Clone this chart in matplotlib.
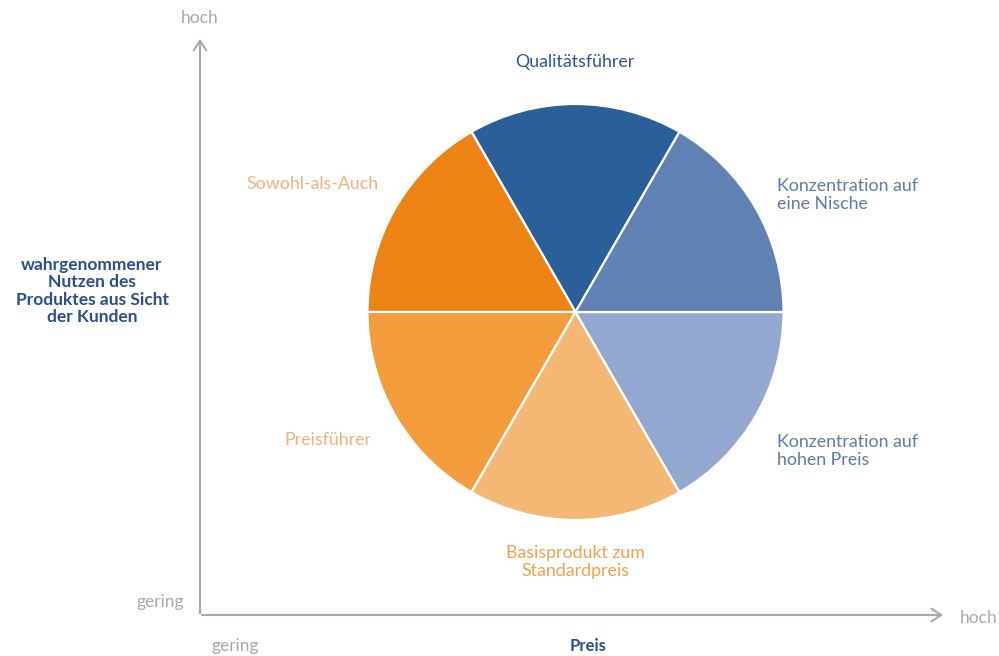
import matplotlib
matplotlib.use('Agg')
import matplotlib.pyplot as plt

plt.rcParams['font.family'] = ['Lato', 'DejaVu Sans']

# Strategien (gleich grosse Segmente, gegen den Uhrzeigersinn ab 60 Grad)
segmente = ['Qualitätsführer', 'Sowohl-als-Auch', 'Preisführer',
            'Basisprodukt zum\nStandardpreis', 'Konzentration auf\nhohen Preis',
            'Konzentration auf\neine Nische']
anteile = [1, 1, 1, 1, 1, 1]
farben = ['#2A5F99', '#EE8315', '#F29C3C', '#F3B873', '#93A8CE', '#6082B2']

y_titel = 'wahrgenommener\nNutzen des\nProduktes aus Sicht\nder Kunden'
x_titel = 'Preis'
achse_lo, achse_hi = 'gering', 'hoch'

W, H = 999, 656
fig = plt.figure(figsize=(W / 100, H / 100), dpi=100)
ax = fig.add_axes([0, 0, 1, 1])

def py(y):
    # Pixel-y (von oben) in Datenkoordinaten
    return H - y

cx, cy, r = 575.5, py(312), 208
ax.pie(anteile, colors=farben, startangle=60, counterclock=True,
       center=(cx, cy), radius=r, frame=True,
       wedgeprops=dict(edgecolor='white', linewidth=1.6))

ax.set_xlim(0, W)
ax.set_ylim(0, H)
ax.set_aspect('equal')
ax.axis('off')

# Achsen
grau = '#A9A9A9'
ox, oy = 200, py(615)
ax.annotate('', xy=(ox, py(36)), xytext=(ox, oy - 1),
            arrowprops=dict(arrowstyle='->,head_length=0.7,head_width=0.45',
                            color=grau, lw=1.5))
ax.annotate('', xy=(946, oy), xytext=(ox - 1, oy),
            arrowprops=dict(arrowstyle='->,head_length=0.7,head_width=0.45',
                            color=grau, lw=1.5))

fs_achse = 12.5
ax.text(ox, py(18), achse_hi, fontsize=fs_achse, color=grau, ha='center', va='center')
ax.text(979, py(618), achse_hi, fontsize=fs_achse, color=grau, ha='center', va='center')
ax.text(160, py(602), achse_lo, fontsize=fs_achse, color=grau, ha='center', va='center')
ax.text(235, py(646), achse_lo, fontsize=fs_achse, color=grau, ha='center', va='center')
ax.text(588, py(646), x_titel, fontsize=12, color='#2B4F8A', ha='center',
        va='center', weight='bold')
ax.text(92, py(291), y_titel, fontsize=12.5, color='#2B4F8A', ha='center',
        va='center', weight='bold', linespacing=1.12)

# Segment-Beschriftungen
blau_t = '#2B5592'
blau_h = '#5C7BA6'
orange_h = '#F1B27A'
orange_t = '#F0A24C'
fs = 12.8
ax.text(575, py(62), segmente[0], fontsize=fs, color=blau_t, ha='center', va='center')
ax.text(312, py(184), segmente[1], fontsize=fs, color=orange_h, ha='center', va='center')
ax.text(328, py(440), segmente[2], fontsize=fs, color=orange_h, ha='center', va='center')
ax.text(575, py(562), segmente[3], fontsize=fs, color=orange_t, ha='center', va='center',
        linespacing=1.2)
ax.text(777, py(451), segmente[4], fontsize=fs, color=blau_h, ha='left', va='center',
        linespacing=1.2)
ax.text(777, py(195), segmente[5], fontsize=fs, color=blau_h, ha='left', va='center',
        linespacing=1.2)

fig.savefig('out.png', dpi=100, facecolor='white')
plt.close(fig)
